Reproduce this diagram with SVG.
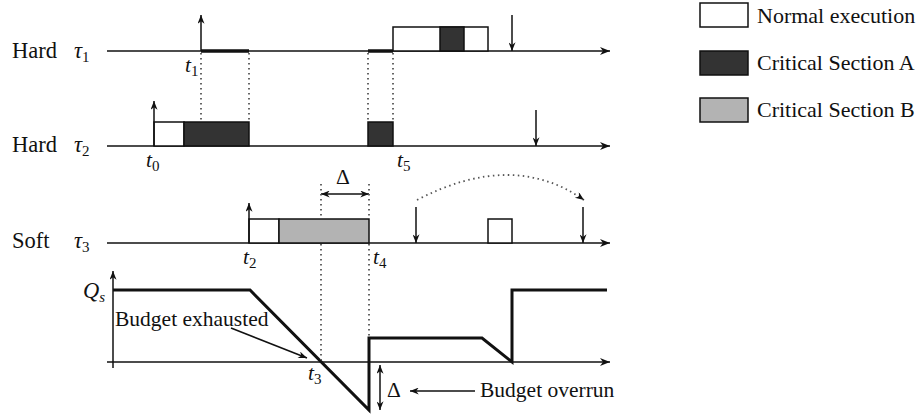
<svg xmlns="http://www.w3.org/2000/svg" width="918" height="417" viewBox="0 0 918 417">
<defs>
<marker id="ah" viewBox="0 0 10 8" refX="10" refY="4" markerWidth="12" markerHeight="8" markerUnits="userSpaceOnUse" orient="auto-start-reverse">
<path d="M0,0 L10,4 L0,8 L3,4 Z" fill="#111"/>
</marker>
<marker id="ahs" viewBox="0 0 10 8" refX="10" refY="4" markerWidth="10" markerHeight="7" markerUnits="userSpaceOnUse" orient="auto-start-reverse">
<path d="M0,0 L10,4 L0,8 L3,4 Z" fill="#111"/>
</marker>
</defs>
<style>
.ax{stroke:#111;stroke-width:1.5;fill:none}
.lbl{font-family:"Liberation Serif","Times New Roman",serif;font-size:21.5px;fill:#111}
.big{font-size:22.5px}
.leg{font-size:22px}
.it{font-style:italic}
.sub{font-size:15px;font-style:normal}
.subi{font-size:15px;font-style:italic}
.norm{fill:#fff;stroke:#111;stroke-width:1.5}
.csa{fill:#333;stroke:#111;stroke-width:1.5}
.csb{fill:#b3b3b3;stroke:#111;stroke-width:1.5}
.dot{stroke:#555;stroke-width:1.8;stroke-dasharray:1.5 3.5;fill:none}
.thick{stroke:#111;stroke-width:3;fill:none}
.arr{stroke:#111;stroke-width:1.5;fill:none}
</style>
<rect width="918" height="417" fill="#fff"/>

<g id="legend">
<rect class="norm" x="700" y="3" width="48" height="24"/>
<text class="lbl leg" x="757" y="23">Normal execution</text>
<rect class="csa" x="700" y="51" width="48" height="24"/>
<text class="lbl leg" x="757" y="70">Critical Section A</text>
<rect class="csb" x="700" y="98" width="48" height="24"/>
<text class="lbl leg" x="757" y="117">Critical Section B</text>
</g>

<g id="tau1">
<text class="lbl big" x="12" y="58">Hard</text>
<text class="lbl it big" x="74" y="58">τ<tspan class="sub" dy="4">1</tspan></text>
<line class="ax" x1="107" y1="51" x2="610" y2="51" marker-end="url(#ah)"/>
<line class="arr" x1="201" y1="51" x2="201" y2="15" marker-end="url(#ahs)"/>
<line x1="201" y1="51" x2="249" y2="51" stroke="#111" stroke-width="3.5"/>
<line x1="368" y1="51" x2="393" y2="51" stroke="#111" stroke-width="3.5"/>
<rect class="norm" x="393" y="27" width="95" height="24"/>
<rect class="csa" x="440" y="27" width="24" height="24"/>
<line class="arr" x1="512" y1="15" x2="512" y2="51" marker-end="url(#ahs)"/>
<text class="lbl it" x="185" y="72">t<tspan class="sub" dy="4">1</tspan></text>
</g>

<g id="tau2">
<text class="lbl big" x="12" y="152">Hard</text>
<text class="lbl it big" x="74" y="152">τ<tspan class="sub" dy="4">2</tspan></text>
<line class="ax" x1="107" y1="146" x2="610" y2="146" marker-end="url(#ah)"/>
<rect class="norm" x="154" y="122" width="30" height="24"/>
<rect class="csa" x="184" y="122" width="65" height="24"/>
<line class="arr" x1="154" y1="146" x2="154" y2="101" marker-end="url(#ahs)"/>
<rect class="csa" x="368" y="122" width="25" height="24"/>
<line class="arr" x1="536" y1="110" x2="536" y2="146" marker-end="url(#ahs)"/>
<text class="lbl it" x="146" y="167">t<tspan class="sub" dy="4">0</tspan></text>
<text class="lbl it" x="397" y="167">t<tspan class="sub" dy="4">5</tspan></text>
</g>

<g id="tau3">
<text class="lbl big" x="12" y="248">Soft</text>
<text class="lbl it big" x="74" y="248">τ<tspan class="sub" dy="4">3</tspan></text>
<line class="ax" x1="107" y1="243" x2="610" y2="243" marker-end="url(#ah)"/>
<rect class="norm" x="249" y="219" width="30" height="24"/>
<rect class="csb" x="279" y="219" width="90" height="24"/>
<line class="arr" x1="249" y1="243" x2="249" y2="203" marker-end="url(#ahs)"/>
<line class="arr" x1="416" y1="207" x2="416" y2="243" marker-end="url(#ahs)"/>
<rect class="norm" x="488" y="219" width="24" height="24"/>
<line class="arr" x1="583" y1="207" x2="583" y2="243" marker-end="url(#ahs)"/>
<text class="lbl it" x="243" y="264">t<tspan class="sub" dy="4">2</tspan></text>
<text class="lbl it" x="373" y="264">t<tspan class="sub" dy="4">4</tspan></text>
<line class="arr" x1="321" y1="194" x2="369" y2="194" marker-start="url(#ahs)" marker-end="url(#ahs)"/>
<text class="lbl" x="336" y="184">Δ</text>
</g>

<g id="budget">
<line class="ax" x1="113" y1="368" x2="113" y2="271" marker-end="url(#ahs)"/>
<line class="ax" x1="107" y1="362" x2="610" y2="362" marker-end="url(#ah)"/>
<text class="lbl it big" x="83" y="298">Q<tspan class="subi" dy="4">s</tspan></text>
<polyline class="thick" points="113,290 250,290 369,410 369,338 482,338 512,362 512,290 607,290"/>
<text class="lbl" x="115" y="326">Budget exhausted</text>
<line class="arr" x1="231" y1="328" x2="307" y2="358" marker-end="url(#ahs)"/>
<text class="lbl it" x="308" y="380">t<tspan class="sub" dy="4">3</tspan></text>
<line class="arr" x1="380" y1="365" x2="380" y2="410" marker-start="url(#ahs)" marker-end="url(#ahs)"/>
<text class="lbl" x="387" y="397">Δ</text>
<line class="arr" x1="475" y1="391" x2="410" y2="391" marker-end="url(#ahs)"/>
<text class="lbl" x="480" y="397">Budget overrun</text>
</g>

<g id="connectors">
<line class="dot" x1="201" y1="53" x2="201" y2="122"/>
<line class="dot" x1="249" y1="53" x2="249" y2="122"/>
<line class="dot" x1="368" y1="53" x2="368" y2="122"/>
<line class="dot" x1="393" y1="53" x2="393" y2="122"/>
<line class="dot" x1="321" y1="184" x2="321" y2="218"/>
<line class="dot" x1="321" y1="244" x2="321" y2="360"/>
<line class="dot" x1="369" y1="184" x2="369" y2="218"/>
<line class="dot" x1="369" y1="244" x2="369" y2="336"/>
<path class="dot" d="M417,200 Q513,150 584,200" marker-end="url(#ahs)"/>
</g>
</svg>
